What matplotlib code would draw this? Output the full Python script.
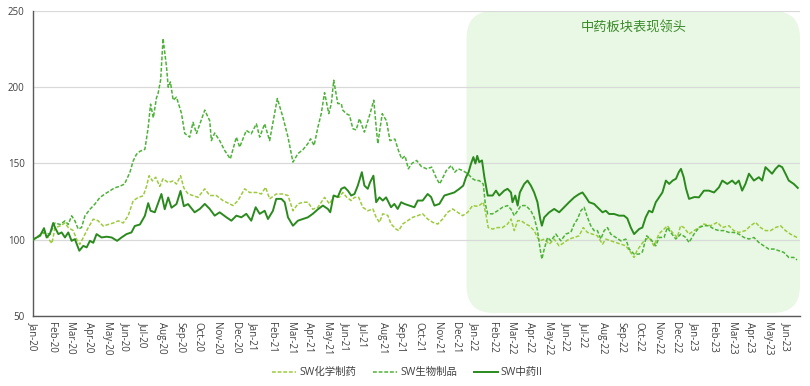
import matplotlib
matplotlib.use("Agg")
import matplotlib.pyplot as plt
from matplotlib.patches import FancyBboxPatch

plt.rcParams['font.family'] = ['Open Sans', 'Noto Sans CJK SC', 'DejaVu Sans']

month_labels = [f"{m}-{y}" for y in ["20", "21", "22", "23"]
                for m in ["Jan", "Feb", "Mar", "Apr", "May", "Jun", "Jul", "Aug",
                          "Sep", "Oct", "Nov", "Dec"]][:42]

series_names = ["SW化学制药", "SW生物制品", "SW中药II"]
annotation = "中药板块表现领头"

# time in months since Jan-2020
t_chem = [0.00,0.38,0.65,0.92,1.03,1.20,1.47,1.74,1.92,2.19,
          2.37,2.55,2.74,3.01,3.28,3.55,3.82,4.10,4.37,4.64,
          4.91,5.18,5.45,5.72,6.00,6.18,6.32,6.50,6.68,6.90,
          7.08,7.36,7.63,7.81,8.03,8.21,8.44,8.71,8.98,9.35,
          9.62,9.98,10.34,10.71,10.89,11.16,11.52,11.79,12.16,12.43,
          12.66,12.88,13.24,13.60,13.88,14.15,14.42,14.69,14.96,15.23,
          15.51,15.87,16.14,16.41,16.68,16.86,17.08,17.32,17.50,17.73,
          17.95,18.22,18.50,18.68,18.86,19.04,19.31,19.49,19.76,19.91,
          20.12,20.40,20.67,20.94,21.21,21.48,21.76,22.03,22.30,22.57,
          22.84,23.12,23.39,23.66,23.93,24.13,24.29,24.51,24.65,24.78,
          25.02,25.29,25.56,25.83,26.02,26.10,26.20,26.38,26.56,26.83,
          27.01,27.28,27.46,27.59,27.83,28.10,28.37,28.64,28.91,29.18,
          29.46,29.73,29.95,30.18,30.45,30.72,31.00,31.18,31.45,31.72,
          32.00,32.27,32.54,32.72,32.88,33.26,33.53,33.80,34.08,34.35,
          34.53,34.80,35.07,35.25,35.43,35.71,35.98,36.25,36.52,36.89,
          37.25,37.52,37.88,38.15,38.42,38.78,39.06,39.33,39.60,39.87,
          40.15,40.42,40.69,40.96,41.23,41.59]
v_chem = [100,102.6,104.8,99.3,97.6,108,109,111,108,106,
          100.4,97,101.5,108,113.5,112.4,109,110,111,112.4,
          111,115.7,125.5,127.7,128.8,135,142,138.6,141,135,
          140,137.5,138.6,136.5,142,134,130,129,127.8,133.4,
          129,129,125.7,123.5,122.4,125.7,133.4,131,131,130,
          134.4,126.8,130,130,129,119,123.5,124.6,124.6,120,
          121.3,127.8,123.5,129,127.8,131,127.8,125.7,127.8,127.8,
          121.3,119,120.2,114.7,111.4,117,116,110.3,107,106,
          110.3,112.5,114.7,115.8,117,113.6,111.4,110.3,113.6,118,
          120.2,118,115.8,118,122.4,122,122.4,124.6,117,108,
          107,108,108,110.3,113.6,110.3,106,112.5,112.5,110.3,
          109.2,106,101.5,99.3,100.4,97.1,100.4,96,98.2,100.4,
          101.5,102.6,108,104.8,103.7,102.6,97.1,100.4,99.3,98.2,
          97.1,96,91.6,88.4,93,99.3,101.5,96,104,107,
          109.2,104.8,101.5,109.2,108,103.7,106,108,110.3,109.2,
          111.4,108,109.2,106,104.8,106,109.2,111.4,108,106,
          106,108,109.2,106,103.7,101.5]

t_bio = [0.00,0.56,0.92,1.20,1.47,1.74,1.92,2.10,2.28,2.46,
         2.64,2.83,3.10,3.37,3.64,3.91,4.17,4.44,4.71,4.98,
         5.27,5.45,5.63,5.82,6.09,6.27,6.40,6.55,6.72,6.81,
         6.95,7.08,7.27,7.36,7.48,7.63,7.81,8.08,8.26,8.53,
         8.71,8.90,9.35,9.62,9.71,9.89,10.16,10.43,10.74,11.07,
         11.25,11.61,11.88,12.16,12.34,12.61,12.88,13.30,13.60,13.88,
         14.15,14.42,14.69,14.96,15.11,15.30,15.51,15.69,15.87,16.10,
         16.24,16.37,16.59,16.78,16.86,17.05,17.23,17.41,17.59,17.77,
         18.04,18.32,18.55,18.68,18.77,19.01,19.24,19.43,19.70,19.89,
         20.07,20.25,20.43,20.62,20.88,21.14,21.43,21.70,21.97,22.14,
         22.32,22.50,22.77,22.96,23.14,23.39,23.66,23.93,24.11,24.29,
         24.51,24.62,24.75,25.02,25.29,25.56,25.83,26.02,26.20,26.38,
         26.56,26.83,27.10,27.28,27.46,27.59,27.70,27.83,28.01,28.19,
         28.46,28.73,29.00,29.28,29.46,29.64,29.82,30.00,30.18,30.36,
         30.54,30.72,30.91,31.09,31.27,31.45,31.72,32.00,32.27,32.45,
         32.72,32.99,33.17,33.40,33.62,33.90,34.08,34.35,34.53,34.71,
         34.99,35.26,35.53,35.71,35.98,36.25,36.52,36.79,37.07,37.34,
         37.61,37.88,38.15,38.42,38.70,38.97,39.24,39.51,39.78,40.05,
         40.33,40.60,40.87,41.14,41.41,41.59]
v_bio = [100,104.8,103.7,111,110,112.4,110,115.7,112.4,107,
         108,115.7,120,123.4,127.7,130,132,134,135,136.5,
         144,151.6,156,158,159.3,173.6,188.9,180,193,196,
         205,232,213,200,203.5,191.5,193.5,183,169.7,167.3,
         177,169.7,185,178,165,170,165,158.6,153,167.3,
         160.7,171.7,169.5,176,167.3,176,165,192.6,180.5,167.3,
         150.9,156.5,159,163,166.2,161.8,173.9,182.7,196.5,182.7,
         189.3,204.6,189.3,189.3,185,182.7,181.6,172.8,172,179.4,
         170.6,181.6,191.5,173.9,163,182.7,178,165,166,158.6,
         153,155,146.5,150,152,148,146.5,147.6,140,136.6,
         141,145.4,148.7,144.3,146.5,145.4,143.3,140,138.8,138.8,
         136.5,123.5,117,117,119,121.3,122.4,120,115.8,119,
         122.4,122.4,119,114.7,106,95,87.3,94,101.5,99.3,
         103.7,99.3,103.7,105,110.3,113.6,119,121.3,114.7,109.2,
         106,106,100.5,106,108,103.7,101.5,99.3,100.4,93.9,
         90.6,90.6,92,102.6,100.4,96,101.5,101.5,108,104.8,
         100.5,103.7,101.5,98.2,103.7,108,109.2,109.2,107,106,
         106,104.8,104.8,103.7,101.5,100.5,101.5,98.2,96,93.9,
         93.9,92.8,91.7,88.4,88.4,86.8]

t_tcm = [0.00,0.20,0.38,0.60,0.74,0.92,1.10,1.20,1.38,1.56,
         1.74,1.92,2.10,2.28,2.52,2.74,2.92,3.10,3.28,3.46,
         3.73,4.01,4.28,4.58,4.82,5.09,5.36,5.54,5.82,6.09,
         6.27,6.40,6.63,6.81,6.99,7.17,7.36,7.54,7.81,8.03,
         8.21,8.44,8.80,9.08,9.35,9.62,9.89,10.16,10.53,10.80,
         11.07,11.34,11.61,11.88,12.12,12.34,12.61,12.79,13.06,13.24,
         13.52,13.70,13.88,14.15,14.42,14.69,14.96,15.23,15.51,15.78,
         16.05,16.18,16.36,16.59,16.78,16.96,17.14,17.32,17.50,17.68,
         17.90,18.04,18.22,18.35,18.53,18.68,18.86,19.04,19.22,19.49,
         19.67,19.85,20.04,20.22,20.49,20.76,20.94,21.21,21.48,21.67,
         21.85,22.12,22.39,22.66,22.93,23.21,23.42,23.57,23.71,23.84,
         23.97,24.08,24.18,24.29,24.44,24.57,24.75,25.02,25.20,25.38,
         25.65,25.83,26.02,26.10,26.25,26.38,26.50,26.74,26.92,27.10,
         27.28,27.46,27.61,27.70,27.83,28.10,28.37,28.64,28.91,29.18,
         29.46,29.73,29.91,30.09,30.27,30.54,30.82,31.00,31.18,31.36,
         31.63,31.90,32.17,32.35,32.54,32.72,32.99,33.17,33.35,33.53,
         33.71,33.90,34.08,34.26,34.45,34.63,34.82,35.00,35.15,35.27,
         35.42,35.55,35.71,36.00,36.25,36.52,36.79,37.07,37.34,37.52,
         37.79,38.06,38.24,38.42,38.60,38.78,38.97,39.24,39.51,39.69,
         39.87,40.05,40.23,40.42,40.60,40.78,40.96,41.14,41.41,41.63]
v_tcm = [100,101.5,102.6,107.6,101.5,103.7,111,108,103.7,104.8,
         101.5,104.8,99.3,100.4,92.8,96,95,99.3,98,103.7,
         101.5,102,101.5,99.3,101.5,103.7,104.8,109,110,115.7,
         124,119,118,124,130,120,127.7,121,123.4,132,
         122,123.4,118,120.2,123.5,120.2,115.8,118,114.7,112.5,
         115.8,114.7,117,112.5,121.3,117,119,113.6,119,126.8,
         126.8,124.6,114.7,109.2,112.5,113.6,114.7,117,120,122.4,
         120.2,118,129,128,133.4,134.4,132.2,129,130,135.5,
         144.3,135.5,133.4,137.7,142,124.6,127.8,125.7,127.8,121.3,
         123.5,120.2,124.6,123.5,122.4,121.3,125.7,125.7,130,128,
         122.4,123.5,129,130,131,133.4,135.5,141,144.3,149.8,
         154.2,150,155,150.9,152,141,129,129,132.2,129,
         132.2,133.4,131,124.6,129,122.4,131,136.6,138.8,135.5,
         131,124.6,113.6,109.2,114.7,118,120.2,118,121.3,124.6,
         127.8,130,131,128,124.6,123.5,120.2,118,119,116.9,
         116.9,115.8,115.8,114,108,103.7,107,108,114.7,119,
         118,124.6,127.8,131,138.8,136.6,138.8,140,144.3,146.5,
         141,133.4,126.8,128,127.8,132.2,132.2,131,134.4,138.8,
         136.6,138.8,136.6,138.8,132.2,136.6,143.3,138.8,141,138.8,
         147.6,145.4,143.3,146.5,148.7,147.6,143.3,138.8,136.6,134]

highlight_start = 23.6   # month where highlighted period begins
y_ticks = [50, 100, 150, 200, 250]

c_chem = '#9CCB3B'
c_bio = '#4DB338'
c_tcm = '#2B8A1E'

fig = plt.figure(figsize=(8.10, 3.86), dpi=100)
ax = fig.add_axes([33/810, (386-316)/386, (800-33)/810, (316-11)/386])
ax.set_xlim(0, 41.75)
ax.set_ylim(50, 250)

ax.plot(t_chem, v_chem, color=c_chem, lw=1.1, ls=(0, (2.5, 1.2)), label=series_names[0], zorder=3)
ax.plot(t_bio, v_bio, color=c_bio, lw=1.1, ls=(0, (2.5, 1.2)), label=series_names[1], zorder=3)
ax.plot(t_tcm, v_tcm, color=c_tcm, lw=1.4, label=series_names[2], zorder=4)

# rounded highlight box (built in inches so corners stay round)
p0 = ax.transData.transform((highlight_start, 52))
p1 = ax.transData.transform((41.75, 250))
x0, y0 = p0 / fig.dpi
x1, y1 = p1 / fig.dpi
box = FancyBboxPatch((x0, y0), x1 - x0, y1 - y0,
                     boxstyle="round,pad=0,rounding_size=0.27",
                     transform=fig.dpi_scale_trans, facecolor='#E9F8E4',
                     edgecolor='none', zorder=0.2, clip_on=False)
ax.add_patch(box)

ax.text(32.7, 238.5, annotation, color='#3A8A2A', fontsize=9.5, style='italic',
        ha='center', va='center', family=['Noto Sans CJK SC', 'DejaVu Sans'], zorder=5)

ax.set_axisbelow(True)
ax.yaxis.grid(True, color='#D9D9D9', lw=0.9)
ax.set_yticks(y_ticks)
ax.set_xticks(range(len(month_labels)))
ax.set_xticklabels(month_labels, rotation=-90, fontsize=7, color='#404040')
ax.tick_params(axis='y', labelsize=7, colors='#404040', length=0, pad=6)
ax.tick_params(axis='x', length=0, pad=4)
for s in ['top', 'right']:
    ax.spines[s].set_visible(False)
for s in ['left', 'bottom']:
    ax.spines[s].set_color('#595959')
    ax.spines[s].set_linewidth(1.0)

leg = fig.legend(loc='center', bbox_to_anchor=(0.503, 0.034), ncol=3, frameon=False,
                 fontsize=7.5, handlelength=2.3, columnspacing=1.6, handletextpad=0.3,
                 labelcolor='#404040')

fig.savefig('out.png', dpi=100)
